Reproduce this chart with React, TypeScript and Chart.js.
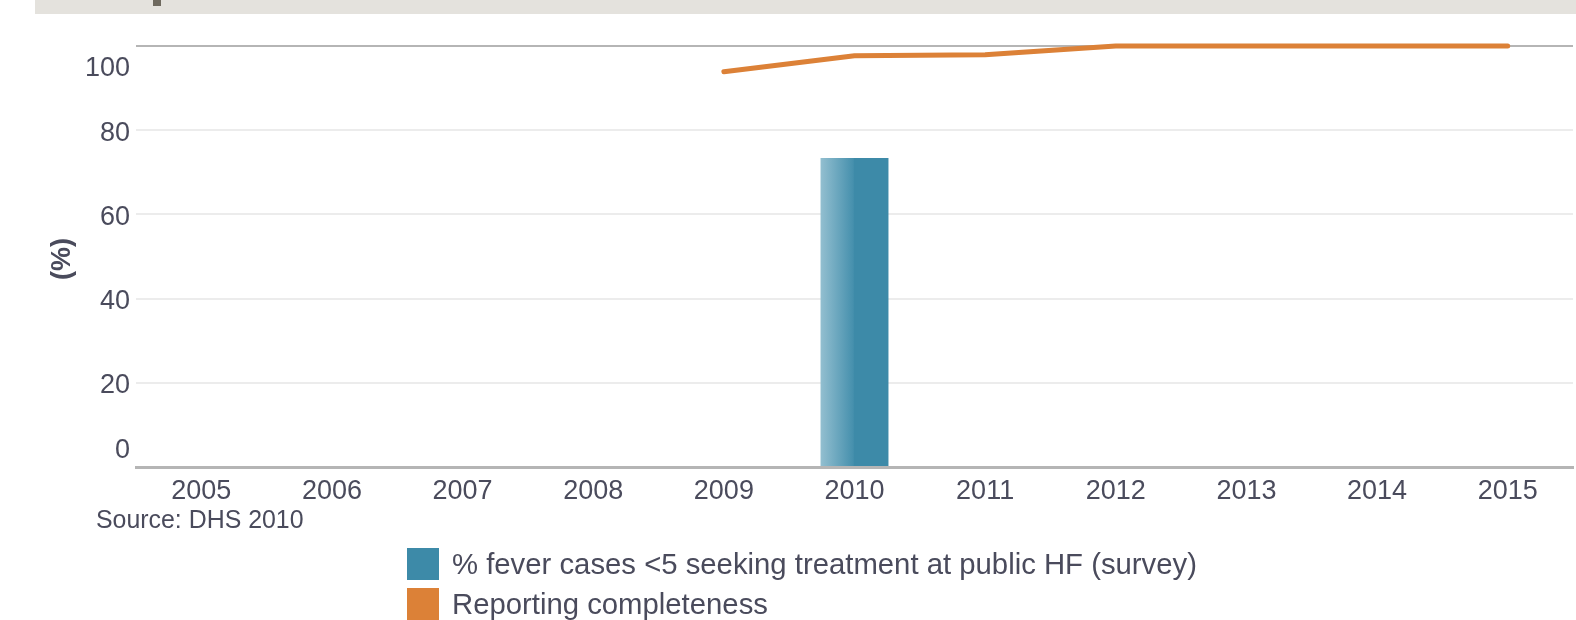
import React, { useEffect, useRef } from "react";
import { Chart, registerables } from "chart.js";

Chart.register(...registerables);

const years = ["2005", "2006", "2007", "2008", "2009", "2010", "2011", "2012", "2013", "2014", "2015"];
const feverSeeking: (number | null)[] = [null, null, null, null, null, 73.4, null, null, null, null, null];
const reportingCompleteness: (number | null)[] = [null, null, null, null, 93.9, 97.7, 97.9, 100, 100, 100, 100];
const yTicks = [0, 20, 40, 60, 80, 100];
const seriesNames = ["% fever cases <5 seeking treatment at public HF (survey)", "Reporting completeness"];
const seriesColors = ["#3d8aa8", "#dc8137"];
const sourceText = "Source: DHS 2010";
const yTitle = "(%)";

const FONT = '"Liberation Sans", Arial, Helvetica, sans-serif';
const TEXT = "#4a4b5c";

const decorPlugin = {
  id: "decor",
  beforeDraw(chart: any) {
    const ctx = chart.ctx;
    ctx.save();
    ctx.fillStyle = "#ffffff";
    ctx.fillRect(0, 0, chart.width, chart.height);
    ctx.fillStyle = "#e4e2dd";
    ctx.fillRect(35, 0, chart.width - 35, 14);
    ctx.fillStyle = "#6e695e";
    ctx.fillRect(153, 0, 8, 6);
    ctx.restore();
  },
  afterDraw(chart: any) {
    const ctx = chart.ctx;
    const ys = chart.scales.y;
    ctx.save();
    ctx.fillStyle = TEXT;
    ctx.font = `27px ${FONT}`;
    ctx.textAlign = "right";
    ctx.textBaseline = "middle";
    yTicks.forEach((v) => {
      let y = ys.getPixelForValue(v) + 3;
      if (v === 0) y -= 19;
      if (v === ys.max) y += 20;
      ctx.fillText(String(v), 130, y);
    });
    // y title
    ctx.save();
    ctx.translate(63, 259);
    ctx.rotate(-Math.PI / 2);
    ctx.textAlign = "center";
    ctx.font = `bold 27px ${FONT}`;
    ctx.fillText(yTitle, 0, 0);
    ctx.restore();
    // source
    ctx.textAlign = "left";
    ctx.font = `24.9px ${FONT}`;
    ctx.fillText(sourceText, 96, 521);
    // legend
    ctx.font = `29.3px ${FONT}`;
    seriesNames.forEach((name, i) => {
      const top = 548 + i * 40;
      ctx.fillStyle = seriesColors[i];
      ctx.fillRect(407, top, 32, 32);
      ctx.fillStyle = TEXT;
      ctx.fillText(name, 452, top + 18);
    });
    ctx.restore();
  },
};

export default function App() {
  const ref = useRef<HTMLCanvasElement | null>(null);
  useEffect(() => {
    if (!ref.current) return;
    const chart = new Chart(ref.current, {
      type: "bar",
      data: {
        labels: years,
        datasets: [
          {
            type: "line",
            label: seriesNames[1],
            data: reportingCompleteness,
            borderColor: seriesColors[1],
            backgroundColor: seriesColors[1],
            borderWidth: 5,
            borderCapStyle: "round",
            borderJoinStyle: "round",
            pointRadius: 0,
            tension: 0,
            clip: false,
            order: 0,
          } as any,
          {
            type: "bar",
            label: seriesNames[0],
            data: feverSeeking,
            barPercentage: 0.52,
            categoryPercentage: 1,
            order: 1,
            backgroundColor: (c: any) => {
              const ch = c.chart;
              if (!ch.chartArea) return seriesColors[0];
              const xs = ch.scales.x;
              const cx = xs.getPixelForValue(c.dataIndex);
              const w = (xs.width / years.length) * 0.52;
              const g = ch.ctx.createLinearGradient(cx - w / 2, 0, cx + w / 2, 0);
              g.addColorStop(0, "#93bfd0");
              g.addColorStop(0.48, "#4690ad");
              g.addColorStop(0.5, "#3d8aa8");
              g.addColorStop(1, "#3d8aa8");
              return g;
            },
          } as any,
        ],
      },
      options: {
        animation: false,
        responsive: false,
        devicePixelRatio: 1,
        layout: { padding: { left: 0, top: 46, right: 3, bottom: 0 } },
        plugins: { legend: { display: false }, tooltip: { enabled: false } },
        scales: {
          x: {
            grid: { display: false, drawTicks: false },
            border: { display: true, color: "#b5b5b5", width: 3 },
            ticks: { color: TEXT, font: { family: FONT, size: 27 }, padding: 8, maxRotation: 0 },
            afterFit: (s: any) => {
              s.height = 153;
            },
          },
          y: {
            min: 0,
            max: 100,
            ticks: { display: false, stepSize: 20 },
            grid: {
              drawTicks: false,
              lineWidth: 2,
              color: (c: any) => (c.tick && (c.tick.value === 100 || c.tick.value === 0) ? "#b5b5b5" : "#ececec"),
            },
            border: { display: false },
            afterFit: (s: any) => {
              s.width = 136;
            },
          },
        },
      } as any,
      plugins: [decorPlugin],
    });
    return () => chart.destroy();
  }, []);
  return (
    <div style={{ position: "absolute", left: 0, top: 0, width: 1576, height: 620 }}>
      <canvas ref={ref} width={1576} height={620} style={{ width: 1576, height: 620 }} />
    </div>
  );
}
